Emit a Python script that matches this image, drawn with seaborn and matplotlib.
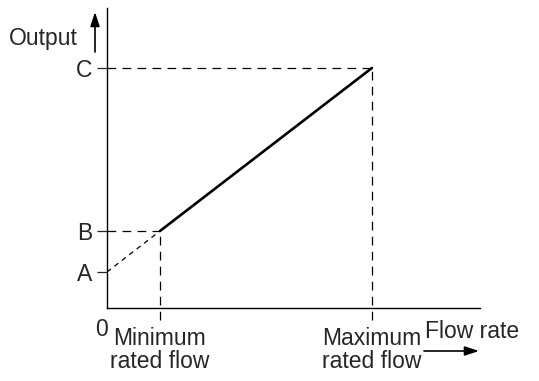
import numpy as np
import matplotlib
matplotlib.use("Agg")
import matplotlib.pyplot as plt
import pandas as pd
import seaborn as sns

# Data (arbitrary units)
flow_points = [1, 5]            # minimum / maximum rated flow
output_points = [77, 240]       # B, C
extrap_flow = [0, 1]            # dashed extension back to the y axis
extrap_output = [36, 77]        # A -> B
y_tick_values = [36, 77, 240]
y_tick_labels = ["A", "B", "C"]
x_tick_labels = ["Minimum\nrated flow", "Maximum\nrated flow"]

FS = 16.5

sns.set_style("white")
plt.rcParams['font.family'] = ['Liberation Sans', 'DejaVu Sans']

fig = plt.figure(figsize=(5.39, 3.81), dpi=100)
ax = fig.add_axes([107 / 539, 1 - 308 / 381, (480 - 107) / 539, 300 / 381])

solid = pd.DataFrame({'flow': flow_points, 'output': output_points})
extra = pd.DataFrame({'flow': extrap_flow, 'output': extrap_output})

sns.lineplot(data=solid, x='flow', y='output', color='black', linewidth=1.9, ax=ax)
sns.lineplot(data=extra, x='flow', y='output', color='black', linewidth=0.9,
             linestyle=(0, (4, 3.5)), ax=ax)

# guide lines
for fx, oy in zip(flow_points, output_points):
    ax.plot([0, fx], [oy, oy], color='black', lw=0.9, ls=(0, (7, 5)))
    ax.plot([fx, fx], [-12, oy], color='black', lw=0.9, ls=(0, (7, 5)), clip_on=False)

ax.set_xlim(0, 7.04)
ax.set_ylim(0, 300)
sns.despine(ax=ax)
for s in ['left', 'bottom']:
    ax.spines[s].set_color('black')
    ax.spines[s].set_linewidth(1.0)

ax.set_yticks(y_tick_values)
ax.set_yticklabels(y_tick_labels, fontsize=FS)
ax.tick_params(axis='y', direction='out', length=7, width=0.9, pad=3.5, left=True)
ax.set_xticks(flow_points)
ax.set_xticklabels(x_tick_labels, fontsize=FS, linespacing=1.0)
ax.tick_params(axis='x', length=0, pad=14)
ax.set_xlabel('')
ax.set_ylabel('')

fig.text(101 / 539, 1 - 329 / 381, '0', fontsize=FS, ha='center', va='center')
fig.text(9 / 539, 1 - 38 / 381, 'Output', fontsize=FS, ha='left', va='center')
fig.text(425 / 539, 1 - 331 / 381, 'Flow rate', fontsize=FS, ha='left', va='center')

arrow = dict(arrowstyle='-|>,head_length=0.85,head_width=0.28', color='black', lw=1.2,
             shrinkA=0, shrinkB=0)
ax.annotate('', xy=(95 / 539, 1 - 12 / 381), xytext=(95 / 539, 1 - 52 / 381),
            xycoords='figure fraction', textcoords='figure fraction', arrowprops=arrow)
ax.annotate('', xy=(479 / 539, 1 - 351 / 381), xytext=(424 / 539, 1 - 351 / 381),
            xycoords='figure fraction', textcoords='figure fraction', arrowprops=arrow)

plt.savefig('out.png', dpi=100)
